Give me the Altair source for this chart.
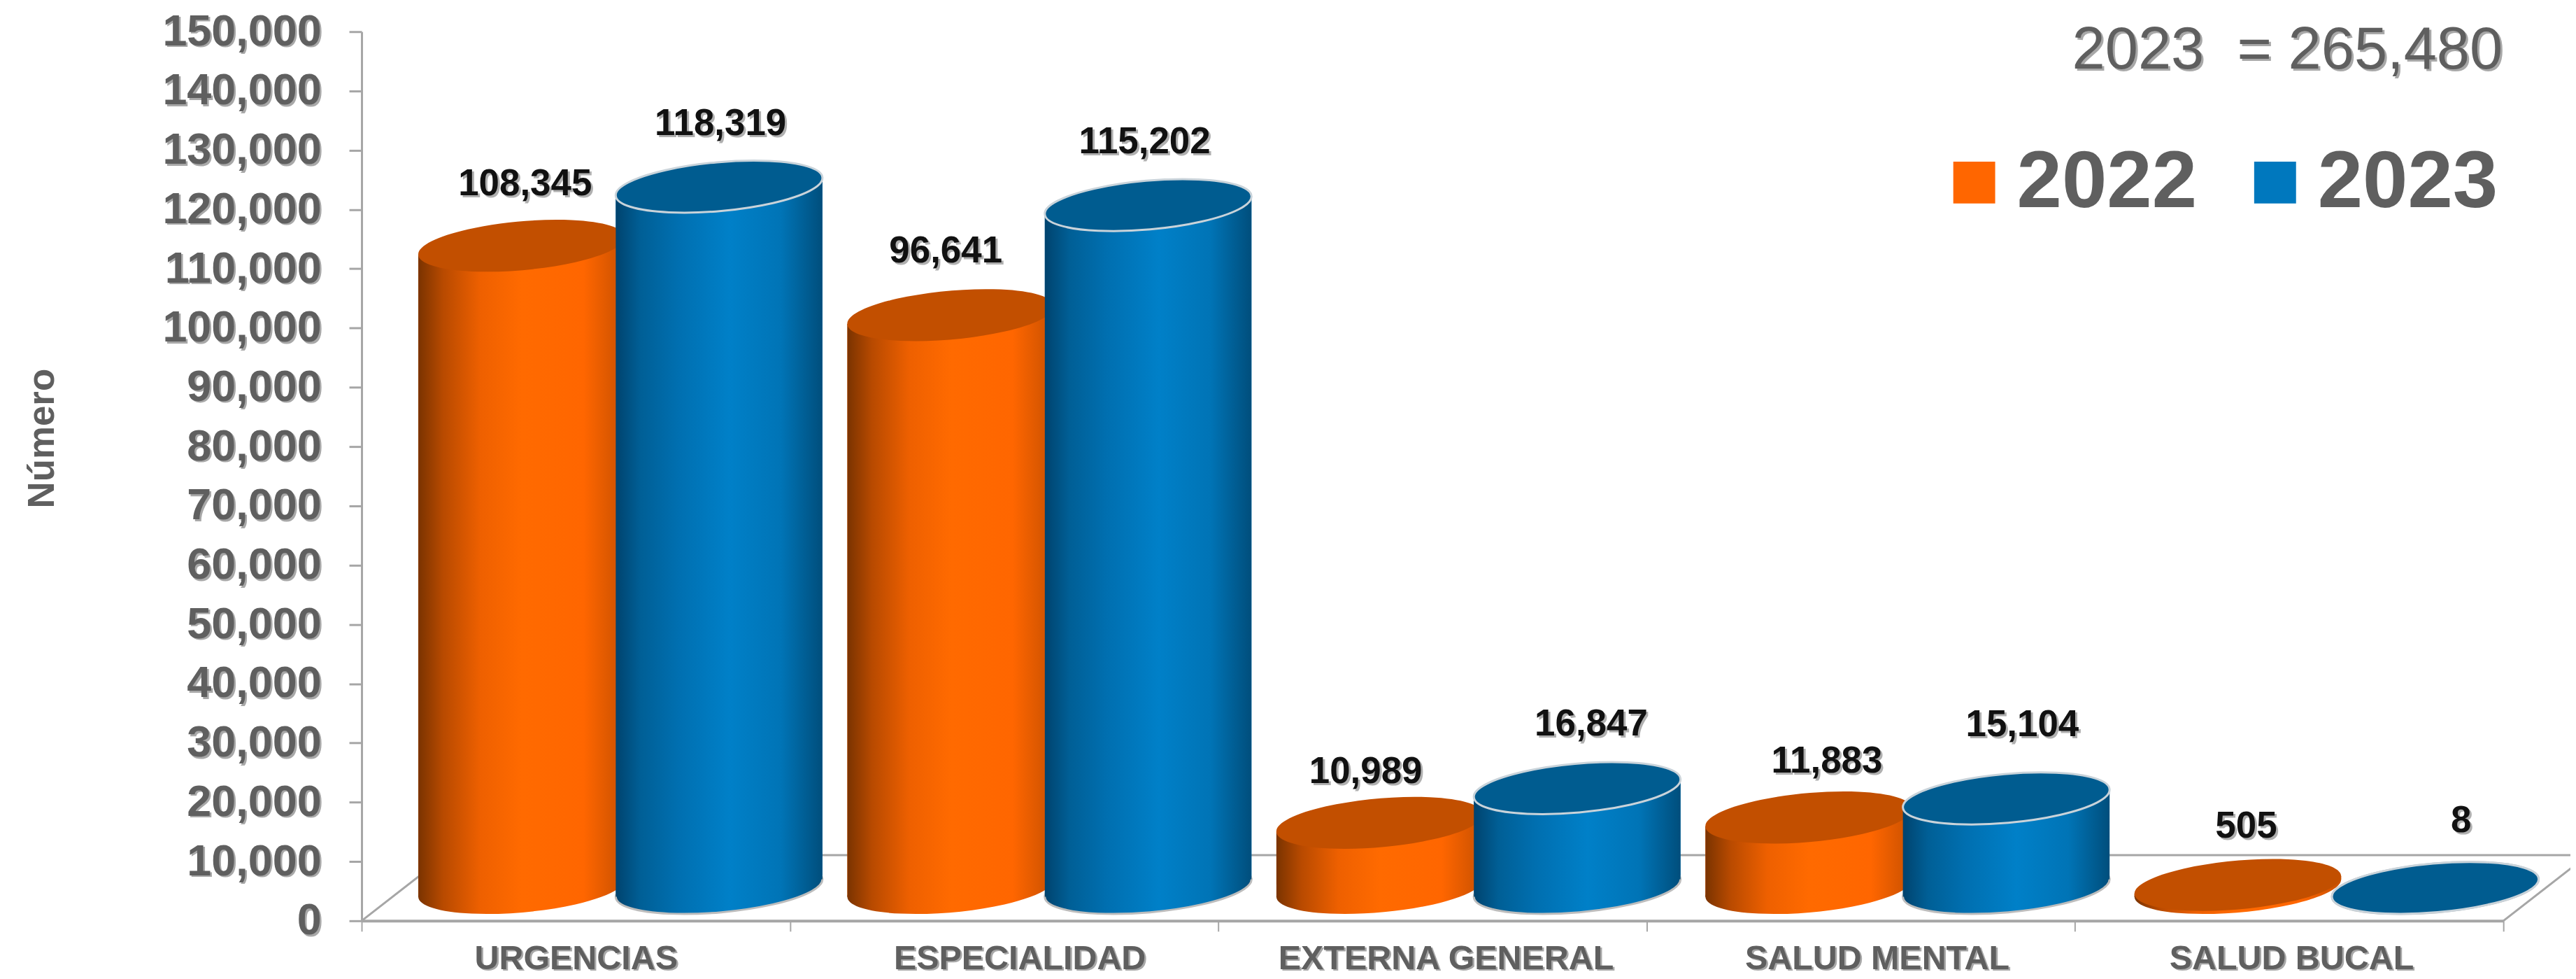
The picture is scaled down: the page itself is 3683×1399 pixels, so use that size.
import altair as alt
import pandas as pd

categories = ["URGENCIAS", "ESPECIALIDAD", "EXTERNA GENERAL", "SALUD MENTAL", "SALUD BUCAL"]
years = ["2022", "2023"]
values_2022 = [108345, 96641, 10989, 11883, 505]
values_2023 = [118319, 115202, 16847, 15104, 8]
y_ticks = list(range(0, 150001, 10000))
total_note = "2023\u00a0\u00a0=\u00a0265,480"
axis_title = "Número"

# hand-placed labels in the source: nudge from the default spot, in px
nudge_x_2022 = [5, -7, -20, 26, 12]
nudge_x_2023 = [2, -5, 20, 23, 37]
nudge_y_2022 = [-2, -5, 13, 6, 2]
nudge_y_2023 = [-4, -4, -5, -19, -10]
nudge_cat = [0, 22, 19, 23, 3]

# geometry of the pseudo 3D
W, H = 3068, 1273
PXX, PXY = W / 5, H / 150000
DEPTH = 47 / PXY          # floor centre line above the front edge, in value units
TILT = 12.5 / PXY         # tilt of the ellipse at its side edges, in value units
SLOT = {"2022": 0.3735, "2023": 0.8345}
STEP = 1 + 1 / PXX
HALF = 148 / PXX
SIZE = 296 ** 2
GAP = 70 / PXY
ELLIPSE = "M-0.9998,0.0892A1.0038,0.2344,-5.1,1,1,0.9998,-0.0892A1.0038,0.2344,-5.1,1,1,-0.9998,0.0892Z"
GREY = "#5F5F5F"
AXC = "#A6A6A6"
SHADOW = "#A8A8A8"
FONT = "Liberation Sans"

rows, sides = [], []
for yr, vals, nx, ny in [("2022", values_2022, nudge_x_2022, nudge_y_2022),
                         ("2023", values_2023, nudge_x_2023, nudge_y_2023)]:
    for i, (c, v) in enumerate(zip(categories, vals)):
        cx = i * STEP + SLOT[yr]
        rows.append(dict(cat=c, year=yr, value=v, x=cx, top=v + DEPTH, base=DEPTH,
                         lx=cx + nx[i] / PXX, ly=v + DEPTH + GAP - ny[i] / PXY,
                         label=f"{v:,}"))
        for side in (-1, 1):
            sides.append(dict(cat=c, year=yr, x=cx + side * HALF,
                              y=v + DEPTH + side * TILT, y2=DEPTH + side * TILT))
df = pd.DataFrame(rows)
ds = pd.DataFrame(sides)

floor = pd.DataFrame({"x": [0, 121 / PXX, 5 + 121 / PXX, 5],
                      "y": [0, 2 * DEPTH, 2 * DEPTH, 0], "o": [0, 1, 2, 3]})
cat_pos = [i + 0.5 + n / PXX for i, n in enumerate(nudge_cat)]
cat_df = pd.DataFrame({"x": cat_pos, "t": categories})
tick_df = pd.DataFrame({"y": y_ticks, "t": [f"{v:,}" for v in y_ticks]})
note_df = pd.DataFrame({"t": [total_note]})

xs = alt.Scale(domain=[0, 5], nice=False, zero=False)
ys = alt.Scale(domain=[0, 150000], nice=False)

names = "[" + ",".join(f"'{c}'" for c in categories) + "]"
CAT_PAD = 16
CAT_TICK = 15
x_axis = alt.Axis(
    title=None, grid=False, values=sorted(list(range(6)) + cat_pos), zindex=1,
    labelExpr=f"datum.value % 1 == 0 ? '' : {names}[floor(datum.value)]",
    labelOverlap=False, labelFont=FONT, labelFontSize=48.5, labelFontWeight="bold", labelColor=GREY,
    labelPadding=CAT_PAD, labelBaseline="top", labelFlush=False, labelLimit=0,
    tickSize=CAT_TICK, tickColor=AXC, tickWidth=2, domainColor=AXC, domainWidth=4,
    tickOpacity=alt.condition("datum.value % 1 == 0", alt.value(1), alt.value(0)),
)
y_axis = alt.Axis(
    title=axis_title, titleFont=FONT, titleFontSize=53, titleFontWeight="bold", titleColor=GREY,
    titleX=-441, titleY=582, titleAngle=-90, titleBaseline="alphabetic", zindex=1,
    grid=False, values=y_ticks, format=",d", labelOverlap=False, labelLimit=0,
    labelFont=FONT, labelFontSize=63, labelFontWeight="bold", labelColor=GREY, labelPadding=40,
    tickSize=18, tickColor=AXC, tickWidth=3, domainColor=AXC, domainWidth=3,
)

def X(f="x"):
    return alt.X(f"{f}:Q", scale=xs, axis=x_axis)

def Y(f="y"):
    return alt.Y(f"{f}:Q", scale=ys, axis=y_axis, stack=None)

frame = alt.Chart(floor).mark_line(color=AXC, strokeWidth=3, clip=False).encode(
    x=X(), y=Y(), order="o:Q",
)

def grad(stops):
    return alt.Gradient(gradient="linear", x1=0, x2=1, y1=0, y2=0,
                        stops=[alt.GradientStop(offset=o, color=c) for o, c in stops])

ORANGE = [(0, "#7A3300"), (0.12, "#B84A00"), (0.3, "#EE6000"), (0.5, "#FF6A00"), (0.8, "#FF6600"), (1, "#C85000")]
BLUE = [(0, "#00436E"), (0.12, "#005F96"), (0.3, "#006FB0"), (0.55, "#0080C8"), (0.8, "#0074B6"), (1, "#004E7C")]

legend_layer = alt.Chart(ds).mark_area(orient="vertical", opacity=1).encode(
    x=X(), y=Y(), y2="y2:Q", detail="cat:N",
    color=alt.Color("year:N", scale=alt.Scale(domain=years, range=["#FF6600", "#0078BE"]),
                    legend=alt.Legend(title=None, orient="none", legendX=2252, legendY=158,
                                      direction="horizontal", columns=2, symbolType="square",
                                      symbolSize=3600, symbolStrokeWidth=0, labelFont=FONT,
                                      labelFontSize=116, labelFontWeight="bold", labelColor=GREY,
                                      labelOffset=3, columnPadding=53, symbolOpacity=1,
                                      labelLimit=600)),
)

def cylinder(year, stops, top_color, rim=None, shadow=None):
    d = df[df.year == year]
    s = ds[ds.year == year]
    base_kw = dict(stroke=shadow, strokeWidth=3) if shadow else dict(strokeWidth=0)
    top_kw = dict(stroke=rim, strokeWidth=3) if rim else dict(strokeWidth=0)
    base = alt.Chart(d).mark_point(filled=True, shape=ELLIPSE, size=SIZE, opacity=1, fill=grad(stops), **base_kw).encode(
        x=X(), y=Y("base"))
    body = alt.Chart(s).mark_area(orient="vertical", opacity=1, color=grad(stops)).encode(
        x=X(), y=Y(), y2="y2:Q", detail="cat:N")
    top = alt.Chart(d).mark_point(filled=True, shape=ELLIPSE, size=SIZE, opacity=1, fill=top_color, **top_kw).encode(
        x=X(), y=Y("top"))
    return [base, body, top]

txt = alt.Chart(df)
label_shadow = txt.mark_text(font=FONT, fontSize=53, fontWeight="bold", color="#B0B0B0", baseline="alphabetic",
                             dx=3, dy=3).encode(x=X("lx"), y=Y("ly"), text="label:N")
labels = txt.mark_text(font=FONT, fontSize=53, fontWeight="bold", color="#111111", baseline="alphabetic").encode(
    x=X("lx"), y=Y("ly"), text="label:N")

tick_shadow = alt.Chart(tick_df).mark_text(font=FONT, fontSize=63, fontWeight="bold", color=SHADOW,
                                           align="right", baseline="middle", dx=3, dy=3).encode(
    x=alt.value(-58), y=Y(), text="t:N")
cat_shadow = alt.Chart(cat_df).mark_text(font=FONT, fontSize=48.5, fontWeight="bold", color=SHADOW,
                                         baseline="top", dx=3, dy=2).encode(
    x=X(), y=alt.value(H + CAT_TICK + CAT_PAD), text="t:N")
note_shadow = alt.Chart(note_df).mark_text(font=FONT, fontSize=85, color=SHADOW, align="right",
                                           baseline="alphabetic", dx=3, dy=3).encode(
    x=alt.value(3067), y=alt.value(53), text="t:N")
note = alt.Chart(note_df).mark_text(font=FONT, fontSize=85, color=GREY, align="right",
                                    baseline="alphabetic").encode(
    x=alt.value(3067), y=alt.value(53), text="t:N")

chart = alt.layer(
    frame, legend_layer,
    *cylinder("2022", ORANGE, "#C24F00"),
    *cylinder("2023", BLUE, "#005C90", rim="#C9D3DA", shadow="#BDBDBD"),
    tick_shadow, cat_shadow, label_shadow, labels, note_shadow, note,
).properties(
    width=W, height=H,
    autosize=alt.AutoSizeParams(type="none"),
    padding={"left": 510, "top": 36, "right": 96, "bottom": 82},
    background="white",
).configure_view(strokeWidth=0)

chart.save("out.html", embed_options={"renderer": "svg", "actions": False})
